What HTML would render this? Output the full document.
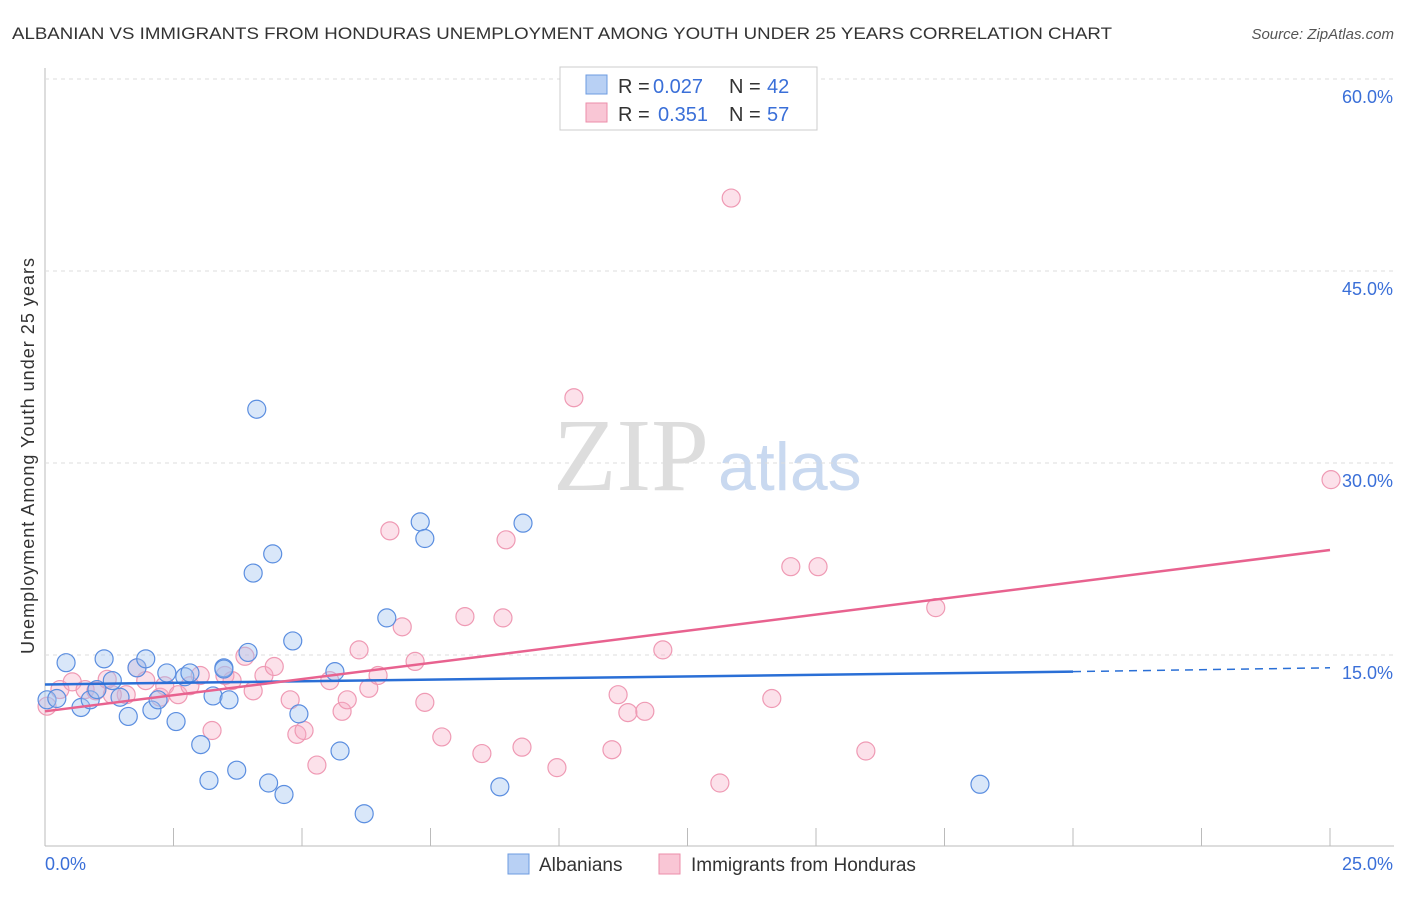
<!DOCTYPE html>
<html><head><meta charset="utf-8"><style>
body{margin:0;background:#fff;font-family:"Liberation Sans",sans-serif}
</style></head><body>
<svg id="c" width="1406" height="892" font-family="Liberation Sans, sans-serif">
<text x="12" y="39" font-size="17" fill="#333" textLength="1100" lengthAdjust="spacingAndGlyphs">ALBANIAN VS IMMIGRANTS FROM HONDURAS UNEMPLOYMENT AMONG YOUTH UNDER 25 YEARS CORRELATION CHART</text>
<text x="1394" y="39" font-size="15" fill="#555" font-style="italic" text-anchor="end">Source: ZipAtlas.com</text>
<text x="34" y="456" font-size="18" fill="#333" text-anchor="middle" textLength="396" transform="rotate(-90 34 456)">Unemployment Among Youth under 25 years</text>
<text x="553" y="490" font-size="104" fill="#ddd" style="font-family:'Liberation Serif',serif">ZIP</text>
<text x="718" y="490" font-size="68" fill="#c9d9f0">atlas</text>
<g id="grid"></g><g id="pts"></g><g id="lines"></g>
<g>
<rect x="560" y="67" width="257" height="63" fill="#fff" stroke="#ccc"/>
<rect x="586" y="75" width="21" height="19" fill="#b8d0f4" stroke="#6d9be0"/>
<text x="618" y="93" font-size="20" fill="#333">R =</text><text x="653" y="93" font-size="20" fill="#3a6fd8">0.027</text>
<text x="729" y="93" font-size="20" fill="#333">N =</text><text x="767" y="93" font-size="20" fill="#3a6fd8">42</text>
<rect x="586" y="103" width="21" height="19" fill="#f9c6d5" stroke="#ec8eaa"/>
<text x="618" y="121" font-size="20" fill="#333">R =</text><text x="658" y="121" font-size="20" fill="#3a6fd8">0.351</text>
<text x="729" y="121" font-size="20" fill="#333">N =</text><text x="767" y="121" font-size="20" fill="#3a6fd8">57</text>
</g>
<g>
<rect x="508" y="854" width="21" height="20" fill="#b8d0f4" stroke="#6d9be0"/>
<text x="539" y="871" font-size="19" fill="#333">Albanians</text>
<rect x="659" y="854" width="21" height="20" fill="#f9c6d5" stroke="#ec8eaa"/>
<text x="691" y="871" font-size="19" fill="#333">Immigrants from Honduras</text>
</g>
</svg>
<script>
const xTicks=[0,2.5,5,7.5,10,12.5,15,17.5,20,22.5,25];
const yTicks=[15,30,45,60];
const yTickLabels=["15.0%","30.0%","45.0%","60.0%"];
const albX=[0.04,0.23,0.41,0.7,0.88,1.15,1.31,1.46,1.62,1.79,1.96,2.08,2.2,2.37,2.55,2.72,2.82,3.03,3.19,3.27,3.48,3.58,3.73,3.95,4.05,4.12,4.35,4.43,4.65,4.82,4.94,5.64,5.74,6.21,6.65,7.3,7.39,8.85,9.3,18.19,3.48,1.01];
const albY=[11.5,11.6,14.4,10.9,11.5,14.7,13.0,11.7,10.2,14.0,14.7,10.7,11.5,13.6,9.8,13.3,13.6,8.0,5.2,11.8,14.0,11.5,6.0,15.2,21.4,34.2,5.0,22.9,4.1,16.1,10.4,13.7,7.5,2.6,17.9,25.4,24.1,4.7,25.3,4.9,13.9,12.3];
const honX=[0.04,0.29,0.53,0.78,0.99,1.21,1.58,1.79,1.96,2.24,2.33,2.59,2.82,3.02,3.25,3.5,3.64,3.89,4.05,4.26,4.46,4.77,4.9,5.04,5.29,5.54,5.78,5.88,6.11,6.3,6.48,6.71,6.95,7.2,7.39,7.72,8.17,8.5,8.91,8.97,9.28,9.96,10.29,11.03,11.15,11.34,11.67,12.02,13.13,13.35,14.14,14.51,15.04,15.97,17.33,25.02,1.31];
const honY=[11.0,12.3,12.9,12.3,12.2,13.1,11.9,14.0,13.0,11.7,12.6,11.9,12.6,13.4,9.1,13.4,13.0,14.9,12.2,13.4,14.1,11.5,8.8,9.1,6.4,13.0,10.6,11.5,15.4,12.4,13.4,24.7,17.2,14.5,11.3,8.6,18.0,7.3,17.9,24.0,7.8,6.2,35.1,7.6,11.9,10.5,10.6,15.4,5.0,50.7,11.6,21.9,21.9,7.5,18.7,28.7,11.9];
const albTrend=[12.7,13.7,14.0];const albTrendX=[0,20,25];
const honTrend=[10.6,23.2];
const NS="http://www.w3.org/2000/svg";
const X=v=>45+v/25*1285, Y=v=>847-v/15*192;
function mk(t,a,p){const e=document.createElementNS(NS,t);for(const k in a)e.setAttribute(k,a[k]);document.getElementById(p).appendChild(e);return e;}
let e=mk('line',{x1:45,y1:68,x2:45,y2:846,stroke:'#bbb'},'grid');

e=mk('line',{x1:45,y1:846,x2:1394,y2:846,stroke:'#bbb'},'grid');

xTicks.forEach(t=>{const l=mk('line',{x1:X(t),y1:828,x2:X(t),y2:846,stroke:'#bbb'},'grid');
});
yTicks.forEach((t,i)=>{const l=mk('line',{x1:45,y1:Y(t),x2:1394,y2:Y(t),stroke:'#ddd','stroke-dasharray':'4,4'},'grid');

const tx=mk('text',{x:1393,y:Y(t)+24,'font-size':18,fill:'#3a6fd8','text-anchor':'end'},'grid');tx.textContent=yTickLabels[i];
});
let t0=mk('text',{x:45,y:870,'font-size':18,fill:'#3a6fd8'},'grid');t0.textContent='0.0%';

let t1=mk('text',{x:1393,y:870,'font-size':18,fill:'#3a6fd8','text-anchor':'end'},'grid');t1.textContent='25.0%';

honX.forEach((x,i)=>{const c=mk('circle',{cx:X(x),cy:Y(honY[i]),r:9,fill:'rgba(246,170,195,0.35)',stroke:'#ef9ab4','stroke-width':1.2},'pts');
});
albX.forEach((x,i)=>{const c=mk('circle',{cx:X(x),cy:Y(albY[i]),r:9,fill:'rgba(160,195,240,0.4)',stroke:'#5b8ee0','stroke-width':1.2},'pts');
});
let a=mk('line',{x1:X(albTrendX[0]),y1:Y(albTrend[0]),x2:X(albTrendX[1]),y2:Y(albTrend[1]),stroke:'#2a6fd6','stroke-width':2.5},'lines');

a=mk('line',{x1:X(albTrendX[1]),y1:Y(albTrend[1]),x2:X(albTrendX[2]),y2:Y(albTrend[2]),stroke:'#2a6fd6','stroke-width':1.5,'stroke-dasharray':'8,6'},'lines');

a=mk('line',{x1:X(0),y1:Y(honTrend[0]),x2:X(25),y2:Y(honTrend[1]),stroke:'#e8628f','stroke-width':2.5},'lines');

</script>
</body></html>
